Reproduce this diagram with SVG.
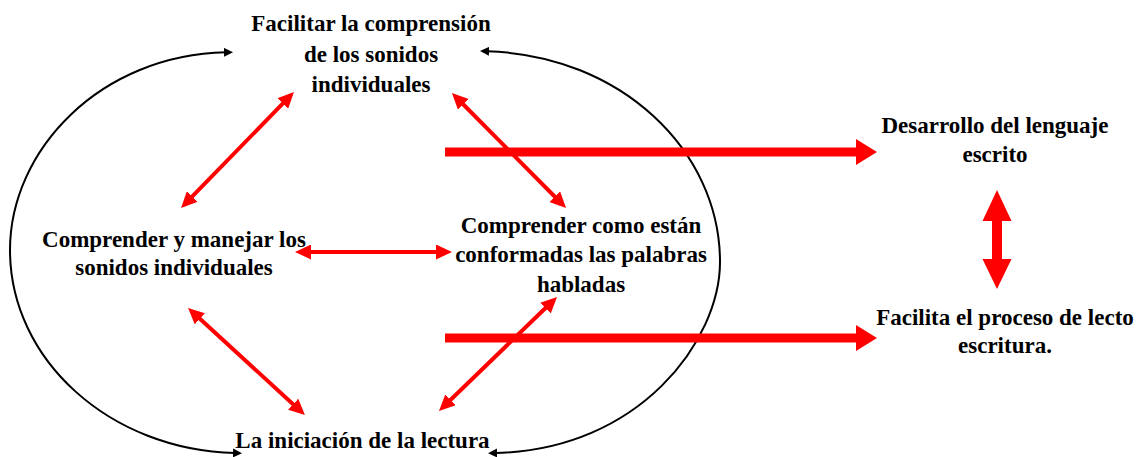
<svg xmlns="http://www.w3.org/2000/svg" width="1140" height="457" viewBox="0 0 1140 457">
<style>
  text { font-family: "Liberation Serif", "Times New Roman", serif; font-weight: bold; font-size: 23px; fill: #000; text-anchor: middle; }
  .arc { fill: none; stroke: #000; stroke-width: 2; }
  .thin { fill: none; stroke: #ff0000; stroke-width: 4; }
  .thick { fill: none; stroke: #ff0000; stroke-width: 9; }
</style>
<defs>
  <marker id="blk" markerUnits="userSpaceOnUse" markerWidth="10" markerHeight="9" refX="2" refY="4.5" orient="auto-start-reverse" viewBox="0 0 10 9">
    <path d="M0,0 L9,4.5 L0,9 z" fill="#000"/>
  </marker>
  <marker id="red" markerUnits="userSpaceOnUse" markerWidth="17" markerHeight="15" refX="4" refY="7.5" orient="auto-start-reverse" viewBox="0 0 17 15">
    <path d="M0,0 L16,7.5 L0,15 z" fill="#ff0000"/>
  </marker>
  <marker id="redbig" markerUnits="userSpaceOnUse" markerWidth="22" markerHeight="27" refX="3" refY="13" orient="auto" viewBox="0 0 22 27">
    <path d="M0,0 L21,13 L0,26 z" fill="#ff0000"/>
  </marker>
</defs>
<rect width="1140" height="457" fill="#fff"/>
<g id="connectors">
  <path class="arc" d="M226,52.3 C100,55 10,150 10,250 C10,360 110,450 235,453" marker-start="url(#blk)" marker-end="url(#blk)"/>
  <path class="arc" d="M487,51.3 C620,55 720,150 720,262 C720,340 640,450 495,453" marker-start="url(#blk)" marker-end="url(#blk)"/>
  <line class="thin" x1="285.6" y1="100.6" x2="189.4" y2="199.4" marker-start="url(#red)" marker-end="url(#red)"/>
  <line class="thin" x1="460.4" y1="101.5" x2="557.6" y2="199.5" marker-start="url(#red)" marker-end="url(#red)"/>
  <line class="thin" x1="307" y1="252" x2="440" y2="252" marker-start="url(#red)" marker-end="url(#red)"/>
  <line class="thin" x1="196.9" y1="316.1" x2="296.1" y2="406.9" marker-start="url(#red)" marker-end="url(#red)"/>
  <line class="thin" x1="548.4" y1="305.3" x2="447.6" y2="402.7" marker-start="url(#red)" marker-end="url(#red)"/>
  <line class="thick" x1="445" y1="152" x2="859" y2="152" marker-end="url(#redbig)"/>
  <line class="thick" x1="445" y1="338" x2="859" y2="338" marker-end="url(#redbig)"/>
  <polygon fill="#ff0000" points="997,190 1011.5,221 1002,221 1002,259 1011.5,259 997,289 982.5,259 992,259 992,221 982.5,221"/>
</g>
<g id="node-facilitar">
  <text x="371" y="31">Facilitar la comprensión</text>
  <text x="371" y="61.5">de los sonidos</text>
  <text x="371" y="92">individuales</text>
</g>
<g id="node-comprender-manejar">
  <text x="174" y="247">Comprender y manejar los</text>
  <text x="174" y="275">sonidos individuales</text>
</g>
<g id="node-comprender-como">
  <text x="581" y="233">Comprender como están</text>
  <text x="581" y="262">conformadas las palabras</text>
  <text x="581" y="292">habladas</text>
</g>
<g id="node-iniciacion">
  <text x="362.5" y="448">La iniciación de la lectura</text>
</g>
<g id="node-desarrollo">
  <text x="995" y="133">Desarrollo del lenguaje</text>
  <text x="995" y="162">escrito</text>
</g>
<g id="node-facilita">
  <text x="1005" y="325">Facilita el proceso de lecto</text>
  <text x="1005" y="353">escritura.</text>
</g>
</svg>
